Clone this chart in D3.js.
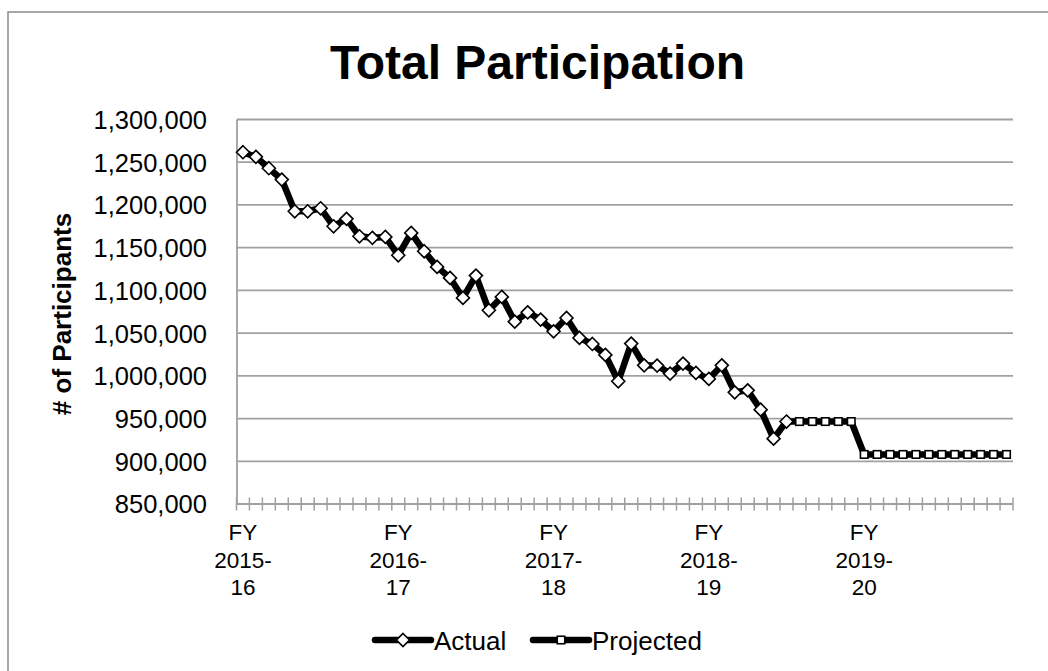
<!DOCTYPE html>
<html>
<head>
<meta charset="utf-8">
<script src="https://cdn.jsdelivr.net/npm/d3@7"></script>
<style>
  html, body { margin: 0; padding: 0; background: #fff; }
  svg { display: block; font-family: Arial, "Liberation Sans", sans-serif; }
</style>
</head>
<body>
<svg id="chart" width="1048" height="671"></svg>
<script>
// ---- Data ----
const categories = d3.range(60); // monthly points, FY 2015-16 .. FY 2019-20
const categoryLabels = ["FY|2015-|16", "FY|2016-|17", "FY|2017-|18", "FY|2018-|19", "FY|2019-|20"];
const labelIndices = [0, 12, 24, 36, 48];
const actual = [
  1261700, 1256300, 1243000, 1229700, 1192600, 1192600, 1196100, 1175000, 1183700, 1163300,
  1161500, 1162600, 1141100, 1167300, 1145800, 1127500, 1114600, 1091200, 1117300, 1076700,
  1092400, 1063400, 1074300, 1065800, 1052100, 1067800, 1044400, 1037300, 1024500, 993600,
  1037700, 1012300, 1012000, 1002600, 1014300, 1003400, 996400, 1012300, 980700, 983000,
  960400, 926500, 946500
];
const projected = [
  null, null, null, null, null, null, null, null, null, null,
  null, null, null, null, null, null, null, null, null, null,
  null, null, null, null, null, null, null, null, null, null,
  null, null, null, null, null, null, null, null, null, null,
  null, null, 946500, 946500, 946500, 946500, 946500, 946500, 908000, 908000,
  908000, 908000, 908000, 908000, 908000, 908000, 908000, 908000, 908000, 908000
];
const yTicks = [850000, 900000, 950000, 1000000, 1050000, 1100000, 1150000, 1200000, 1250000, 1300000];
const seriesNames = ["Actual", "Projected"];
const titleText = "Total Participation";
const yTitle = "# of Participants";

// ---- Layout ----
const svg = d3.select("#chart");
const plot = { left: 236.5, right: 1013, top: 119.5, bottom: 504 };
const grid = "#a0a0a0";

// outer frame
svg.append("rect").attr("x", 8).attr("y", 12).attr("width", 1100).attr("height", 700)
  .attr("fill", "none").attr("stroke", "#8c8c8c").attr("stroke-width", 1.5);

const x = d3.scaleBand().domain(categories).range([plot.left, plot.right]).paddingInner(0).paddingOuter(0);
const cx = i => x(i) + x.bandwidth() / 2;
const y = d3.scaleLinear().domain([850000, 1300000]).range([plot.bottom, plot.top]);

// gridlines
svg.append("g").selectAll("line").data(yTicks.filter(t => t > 850000)).join("line")
  .attr("x1", plot.left).attr("x2", plot.right)
  .attr("y1", d => y(d)).attr("y2", d => y(d))
  .attr("stroke", grid).attr("stroke-width", 1.8);

// y axis
const yAxis = d3.axisLeft(y).tickValues(yTicks).tickSize(0).tickPadding(0)
  .tickFormat(d3.format(","));
const yg = svg.append("g").attr("transform", `translate(${plot.left},0)`).call(yAxis);
yg.select(".domain").attr("stroke", grid).attr("stroke-width", 1.8);
yg.selectAll("text").attr("x", 207 - plot.left).attr("dy", "0.35em")
  .attr("font-size", "25.5px").attr("fill", "#000")
  .attr("font-family", "Arial, 'Liberation Sans', sans-serif");

// x axis line + cross ticks at category boundaries
const boundaries = d3.range(61).map(i => plot.left + i * x.bandwidth());
const xg = svg.append("g");
xg.append("line").attr("x1", plot.left).attr("x2", plot.right)
  .attr("y1", plot.bottom).attr("y2", plot.bottom)
  .attr("stroke", grid).attr("stroke-width", 1.8);
xg.selectAll("line.tk").data(boundaries).join("line").attr("class", "tk")
  .attr("x1", d => d).attr("x2", d => d)
  .attr("y1", plot.bottom - 6.5).attr("y2", plot.bottom + 6.5)
  .attr("stroke", grid).attr("stroke-width", 1.5);

// x labels
const xl = svg.append("g").selectAll("text").data(labelIndices).join("text")
  .attr("text-anchor", "middle").attr("font-size", "22.5px").attr("fill", "#000");
xl.each(function(d, i) {
  const t = d3.select(this);
  categoryLabels[i].split("|").forEach((line, k) => {
    t.append("tspan").attr("x", cx(d)).attr("y", 540 + k * 27.5).text(line);
  });
});

// lines
const line = d3.line().defined(d => d != null).x((d, i) => cx(i)).y(d => y(d));
svg.append("path").datum(projected).attr("d", line)
  .attr("fill", "none").attr("stroke", "#000").attr("stroke-width", 6.5).attr("stroke-linejoin", "round");
svg.append("path").datum(actual).attr("d", line)
  .attr("fill", "none").attr("stroke", "#000").attr("stroke-width", 6.5).attr("stroke-linejoin", "round");

// projected markers (squares), skip the point shared with actual
const sq = 7.5;
svg.append("g").selectAll("rect").data(projected.map((v, i) => ({v, i})).filter(d => d.v != null && d.i >= actual.length))
  .join("rect")
  .attr("x", d => cx(d.i) - sq / 2).attr("y", d => y(d.v) - sq / 2)
  .attr("width", sq).attr("height", sq)
  .attr("fill", "#fff").attr("stroke", "#000").attr("stroke-width", 1.6);

// actual markers (diamonds)
const dm = 6.5;
const diamond = (px, py) => `M${px},${py - dm}L${px + dm},${py}L${px},${py + dm}L${px - dm},${py}Z`;
svg.append("g").selectAll("path").data(actual).join("path")
  .attr("d", (d, i) => diamond(cx(i), y(d)))
  .attr("fill", "#fff").attr("stroke", "#000").attr("stroke-width", 1.6);

// title
svg.append("text").attr("x", 537.5).attr("y", 79).attr("text-anchor", "middle")
  .attr("font-size", "48px").attr("font-weight", "bold").attr("fill", "#000").text(titleText);

// y title
svg.append("text").attr("transform", "translate(71,314) rotate(-90)")
  .attr("text-anchor", "middle").attr("font-size", "26px").attr("font-weight", "bold")
  .attr("fill", "#000").text(yTitle);

// legend
const leg = svg.append("g");
const legY = 640;
const items = [
  { name: seriesNames[0], x1: 375, x2: 431, type: "diamond" },
  { name: seriesNames[1], x1: 533, x2: 589, type: "square" }
];
items.forEach(it => {
  leg.append("line").attr("x1", it.x1).attr("x2", it.x2).attr("y1", legY).attr("y2", legY)
    .attr("stroke", "#000").attr("stroke-width", 6.5).attr("stroke-linecap", "round");
  const mx = (it.x1 + it.x2) / 2;
  if (it.type === "diamond") {
    leg.append("path").attr("d", diamond(mx, legY)).attr("fill", "#fff").attr("stroke", "#000").attr("stroke-width", 1.6);
  } else {
    leg.append("rect").attr("x", mx - sq / 2).attr("y", legY - sq / 2).attr("width", sq).attr("height", sq)
      .attr("fill", "#fff").attr("stroke", "#000").attr("stroke-width", 1.6);
  }
  leg.append("text").attr("x", it.x2 + 3).attr("y", legY + 9.5).attr("font-size", "26px")
    .attr("fill", "#000").text(it.name);
});
</script>
</body>
</html>
